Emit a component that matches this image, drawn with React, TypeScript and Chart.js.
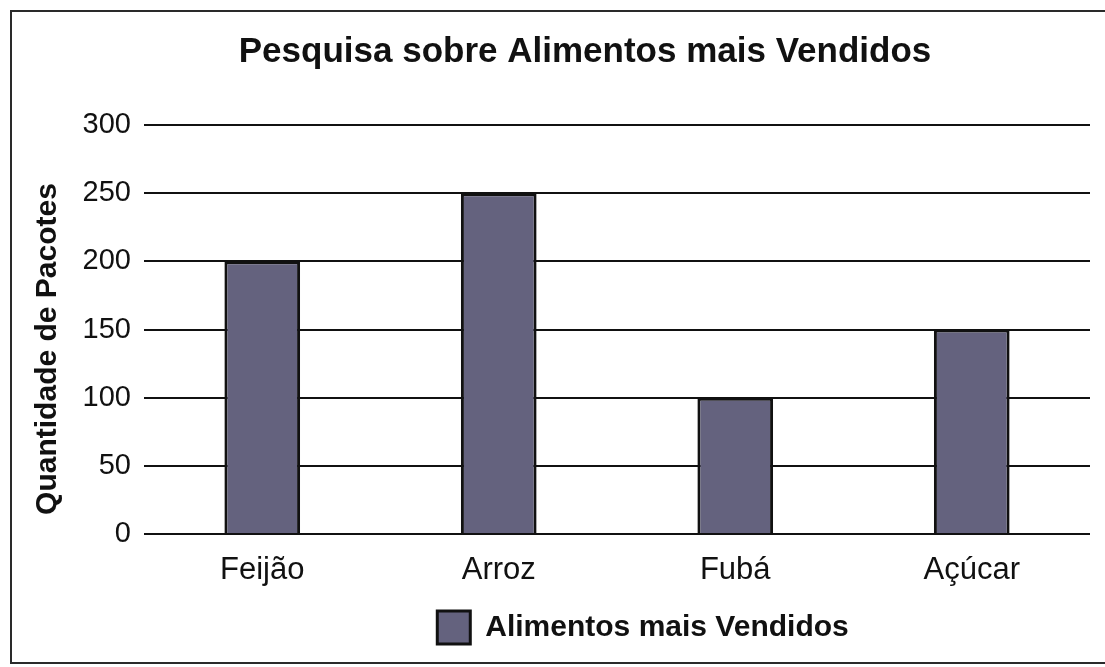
import { useEffect, useRef } from "react";
import { Chart, registerables } from "chart.js";

Chart.register(...registerables);

const chartTitle = "Pesquisa sobre Alimentos mais Vendidos";
const yAxisTitle = "Quantidade de Pacotes";
const seriesLabel = "Alimentos mais Vendidos";
const categories = ["Feijão", "Arroz", "Fubá", "Açúcar"];
const values = [200, 250, 100, 150];
const yTicks = [0, 50, 100, 150, 200, 250, 300];

const FONT = "'Liberation Sans', Arial, Helvetica, sans-serif";
const INK = "#111111";
const BAR = "rgb(100,98,126)";

const positionPlugin = {
  id: "positionTweak",
  afterLayout(chart: any) {
    const t = chart.titleBlock;
    if (t) {
      const dx = 585 - (t.left + t.right) / 2;
      t.left += dx;
      t.right += dx;
    }
    const lg = chart.legend;
    if (lg) {
      const dx = 643 - (lg.left + lg.right) / 2;
      lg.left += dx;
      lg.right += dx;
    }
    const y = chart.scales.y;
    if (y) {
      const dy = 349 - (y.top + y.bottom) / 2;
      y.top += dy;
      y.bottom += dy;
    }
  },
};

export default function App() {
  const ref = useRef<HTMLCanvasElement | null>(null);

  useEffect(() => {
    if (!ref.current) return;
    Chart.defaults.font.family = FONT;
    Chart.defaults.color = INK;
    const chart = new Chart(ref.current, {
      type: "bar",
      data: {
        labels: categories,
        datasets: [
          {
            label: seriesLabel,
            data: values,
            backgroundColor: BAR,
            borderColor: INK,
            borderWidth: 3,
            barPercentage: 0.32,
            categoryPercentage: 1,
          },
        ],
      },
      plugins: [positionPlugin],
      options: {
        responsive: false,
        animation: false,
        devicePixelRatio: 1,
        layout: { padding: { left: 0, right: 15, top: 0, bottom: 13 } },
        plugins: {
          title: {
            display: true,
            text: chartTitle,
            color: INK,
            font: { size: 35, weight: "bold", family: FONT },
            padding: { top: 31, bottom: 52 },
          },
          legend: {
            display: true,
            position: "bottom",
            labels: {
              color: INK,
              font: { size: 30, weight: "bold", family: FONT },
              boxWidth: 33,
              boxHeight: 33,
              padding: 10,
            },
          },
          tooltip: { enabled: false },
        },
        scales: {
          x: {
            grid: { display: false, drawTicks: false },
            border: { display: false },
            ticks: {
              color: INK,
              padding: 18,
              font: { size: 31, family: FONT },
            },
            afterFit: (s: any) => {
              s.height = 67;
            },
          },
          y: {
            min: 0,
            max: 300,
            afterBuildTicks: (s: any) => {
              s.ticks = yTicks.map((v) => ({ value: v }));
            },
            grid: { color: INK, lineWidth: 2, drawTicks: false },
            border: { display: false },
            ticks: {
              color: INK,
              padding: 13,
              font: { size: 29, family: FONT },
            },
            title: {
              display: true,
              text: yAxisTitle,
              color: INK,
              font: { size: 30, weight: "bold", family: FONT },
              padding: { top: 30, bottom: 0 },
            },
            afterFit: (s: any) => {
              s.width = 144;
            },
          },
        },
      },
    } as any);
    return () => chart.destroy();
  }, []);

  return (
    <div>
      <div
        style={{
          position: "fixed",
          left: 10,
          top: 10,
          width: 1095,
          height: 650,
          borderTop: "2px solid #2a2a2a",
          borderLeft: "2px solid #2a2a2a",
          borderBottom: "2px solid #2a2a2a",
          borderRight: "none",
          background: "#fff",
        }}
      />
      <canvas
        ref={ref}
        width={1105}
        height={667}
        style={{ position: "fixed", left: 0, top: 0, width: 1105, height: 667 }}
      />
    </div>
  );
}
